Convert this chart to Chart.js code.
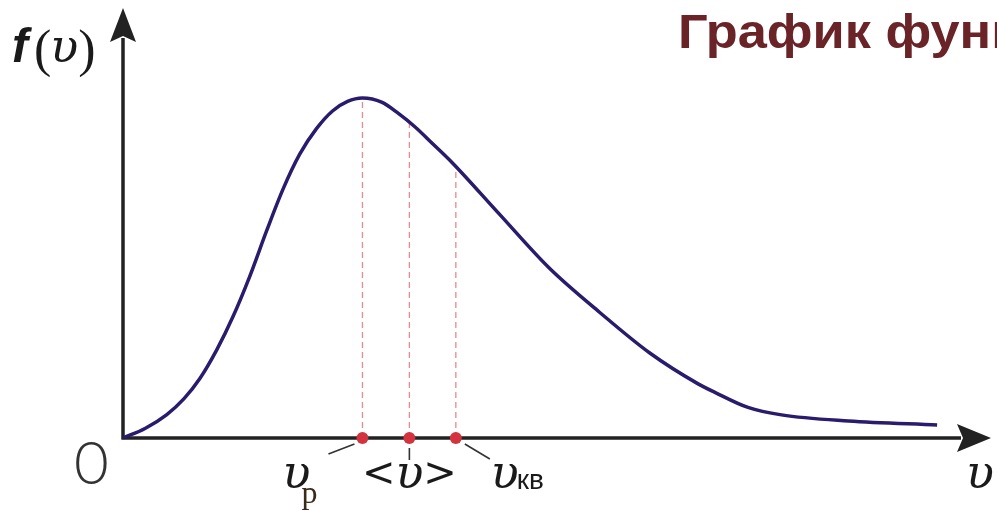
<!DOCTYPE html>
<html>
<head>
<meta charset="utf-8">
<script src="https://cdn.jsdelivr.net/npm/chart.js@4"></script>
<style>
  html, body { margin: 0; padding: 0; background: #fff; }
  #maxwell { display: block; }
</style>
</head>
<body>
<canvas id="maxwell" width="997" height="511"></canvas>
<script>
// curve (speed in units of v_p, f normalised to the peak)
var speed   = [0, 0.092, 0.183, 0.254, 0.321, 0.392, 0.458, 0.529, 0.60, 0.667, 0.738, 0.808, 0.875, 0.938, 1.0,
               1.08, 1.15, 1.22, 1.29, 1.375, 1.57, 1.78, 1.99, 2.20, 2.40, 2.47, 2.61, 2.75, 3.03, 3.40];
var density = [0, 0.028, 0.069, 0.115, 0.175, 0.26, 0.355, 0.475, 0.61, 0.73, 0.835, 0.91, 0.962, 0.99, 1.0,
               0.988, 0.955, 0.915, 0.868, 0.81, 0.66, 0.50, 0.37, 0.25, 0.16, 0.135, 0.09, 0.068, 0.05, 0.038];

// characteristic speeds: v_p, <v>, v_kv
var markSpeed  = [1.0, 1.196, 1.39];
var markHeight = [1.0, 0.93, 0.79];
var markNames  = ['р', 'avg', 'кв'];

var titleText = 'График функции распределения Максвелла';

var xMax = 3.625, yMax = 1.265;

var curvePoints = speed.map(function (s, i) { return { x: s, y: density[i] }; });
var dotPoints = markSpeed.map(function (s) { return { x: s, y: 0 }; });

var datasets = [{
    label: 'f(v)',
    data: curvePoints,
    borderColor: '#2a1b6c',
    borderWidth: 3.5,
    pointRadius: 0,
    cubicInterpolationMode: 'monotone',
    fill: false,
    clip: false,
    order: 2
}];

markSpeed.forEach(function (s, i) {
    datasets.push({
        label: 'drop' + i,
        data: [{ x: s, y: 0 }, { x: s, y: markHeight[i] }],
        borderColor: 'rgba(222, 100, 110, 0.75)',
        borderWidth: 1.3,
        borderDash: [6, 4],
        pointRadius: 0,
        fill: false,
        clip: false,
        order: 3
    });
});

datasets.push({
    label: 'marks',
    data: dotPoints,
    showLine: false,
    pointRadius: 6,
    pointBackgroundColor: '#d3323f',
    pointBorderColor: '#d3323f',
    pointBorderWidth: 0,
    clip: false,
    order: 1
});

function arrowHead(ctx, tx, ty, dir) {
    // dir: 'up' or 'right'
    ctx.beginPath();
    if (dir === 'up') {
        ctx.moveTo(tx, ty);
        ctx.lineTo(tx - 13, ty + 34);
        ctx.lineTo(tx, ty + 28);
        ctx.lineTo(tx + 13, ty + 34);
    } else {
        ctx.moveTo(tx, ty);
        ctx.lineTo(tx - 34, ty - 14);
        ctx.lineTo(tx - 28, ty);
        ctx.lineTo(tx - 34, ty + 14);
    }
    ctx.closePath();
    ctx.fill();
}

var axesPlugin = {
    id: 'axesPlugin',
    beforeDatasetsDraw: function (chart) {
        var ctx = chart.ctx;
        var xs = chart.scales.x, ys = chart.scales.y;
        var ox = xs.getPixelForValue(0), oy = ys.getPixelForValue(0);
        var top = ys.getPixelForValue(yMax), right = xs.getPixelForValue(xMax);
        ctx.save();
        ctx.strokeStyle = '#222';
        ctx.fillStyle = '#222';
        ctx.lineWidth = 3.5;
        ctx.beginPath();
        ctx.moveTo(ox, oy + 1.5);
        ctx.lineTo(ox, top + 30);
        ctx.moveTo(ox - 1.5, oy);
        ctx.lineTo(right - 30, oy);
        ctx.stroke();
        arrowHead(ctx, ox, top, 'up');
        arrowHead(ctx, right, oy, 'right');

        // leader lines under the marks
        ctx.lineWidth = 1.6;
        ctx.strokeStyle = '#333';
        var leaders = [[-8, 6, -34, 16], [0, 10, 0, 22], [9, 6, 34, 21]];
        markSpeed.forEach(function (s, i) {
            var px = xs.getPixelForValue(s);
            var l = leaders[i];
            ctx.beginPath();
            ctx.moveTo(px + l[0], oy + l[1]);
            ctx.lineTo(px + l[2], oy + l[3]);
            ctx.stroke();
        });
        ctx.restore();
    },
    afterDraw: function (chart) {
        var ctx = chart.ctx;
        var xs = chart.scales.x, ys = chart.scales.y;
        var ox = xs.getPixelForValue(0), oy = ys.getPixelForValue(0);
        var ups = 'italic 46px "DejaVu Serif"';
        ctx.save();
        ctx.textBaseline = 'alphabetic';
        ctx.textAlign = 'left';

        // title (runs off the right edge as in the source)
        ctx.save();
        ctx.fillStyle = '#6a2326';
        ctx.font = 'bold 48px "Liberation Sans"';
        ctx.translate(678, 48);
        ctx.scale(1.09, 1);
        ctx.fillText(titleText, 0, 0);
        ctx.restore();

        // y label f(v)
        ctx.fillStyle = '#1a1a1a';
        var x = 12;
        ctx.font = 'bold italic 48px "Liberation Sans"';
        ctx.fillText('f', x, 62);
        x += ctx.measureText('f').width + 6;
        ctx.font = '52px "Liberation Serif"';
        ctx.fillText('(', x, 66);
        x += ctx.measureText('(').width - 1;
        ctx.font = ups;
        ctx.fillText('υ', x, 62);
        x += ctx.measureText('υ').width;
        ctx.font = '52px "Liberation Serif"';
        ctx.fillText(')', x, 66);

        // origin
        ctx.fillStyle = '#333';
        ctx.font = '300 60px Lato';
        ctx.fillText('0', ox - 49, oy + 46);

        // x label
        ctx.fillStyle = '#1a1a1a';
        ctx.font = ups;
        ctx.fillText('υ', 966, oy + 50);

        // speed labels
        var vp = xs.getPixelForValue(markSpeed[0]);
        ctx.font = ups;
        ctx.fillText('υ', vp - 80, oy + 50);
        ctx.font = '32px "Liberation Serif"';
        ctx.fillStyle = '#3b2a18';
        ctx.fillText(markNames[0], vp - 61, oy + 65);

        ctx.fillStyle = '#1a1a1a';
        var va = xs.getPixelForValue(markSpeed[1]);
        ctx.font = '40px "DejaVu Sans"';
        var lt = ctx.measureText('<').width;
        ctx.font = ups;
        var uw = ctx.measureText('υ').width;
        var ax = va - (lt * 2 + uw) / 2;
        ctx.font = '40px "DejaVu Sans"';
        ctx.fillText('<', ax, oy + 48);
        ctx.font = ups;
        ctx.fillText('υ', ax + lt, oy + 50);
        ctx.font = '40px "DejaVu Sans"';
        ctx.fillText('>', ax + lt + uw, oy + 48);

        var vk = xs.getPixelForValue(markSpeed[2]);
        ctx.font = ups;
        ctx.fillText('υ', vk + 35, oy + 50);
        var kx = vk + 35 + ctx.measureText('υ').width - 2;
        ctx.font = '28px "Liberation Sans"';
        ctx.fillText(markNames[2], kx, oy + 51);
        ctx.restore();
    }
};

new Chart(document.getElementById('maxwell'), {
    type: 'line',
    data: { datasets: datasets },
    options: {
        responsive: false,
        animation: false,
        events: [],
        layout: { padding: { left: 123, right: 4, top: 8, bottom: 73 } },
        scales: {
            x: { type: 'linear', min: 0, max: xMax, display: false },
            y: { type: 'linear', min: 0, max: yMax, display: false }
        },
        plugins: {
            legend: { display: false },
            title: { display: false },
            tooltip: { enabled: false }
        }
    },
    plugins: [axesPlugin]
});
</script>
</body>
</html>
